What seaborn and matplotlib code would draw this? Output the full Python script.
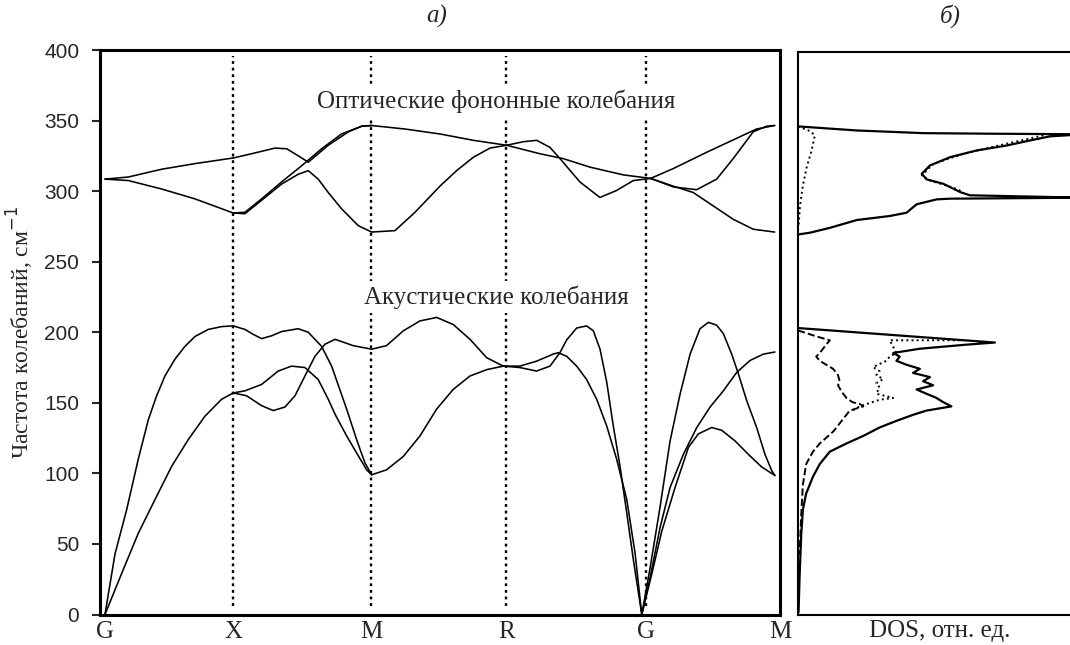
import matplotlib
matplotlib.use("Agg")
import matplotlib.pyplot as plt
import numpy as np
import pandas as pd
import seaborn as sns

# ---------------- data: phonon branches (path coordinate, frequency cm^-1) ----------------
kpath_labels = ["G", "X", "M", "R", "G", "M"]
kpath_pos = [0.0, 0.955, 1.985, 2.99, 4.03, 5.03]

ac_GX_top_u = [0, 0.075, 0.161, 0.248, 0.323, 0.385, 0.447, 0.522, 0.596, 0.671, 0.77, 0.869, 0.956]
ac_GX_top_v = [0, 43, 74, 110, 138, 155, 169, 181, 190, 197, 202, 204, 204.5]
ac_GX_low_u = [0, 0.124, 0.248, 0.373, 0.497, 0.621, 0.745, 0.869, 0.956]
ac_GX_low_v = [0, 29, 57.5, 81.5, 105, 124, 140.5, 152.5, 157]
ac_XM_a_u = [0.956, 1.043, 1.105, 1.167, 1.242, 1.316, 1.44, 1.515, 1.614, 1.689, 1.801, 1.875, 1.937, 1.987]
ac_XM_a_v = [204.5, 202, 198.5, 195.5, 197.5, 200.5, 202.5, 200, 190, 176, 145.5, 124, 107.5, 99]
ac_XM_b_u = [0.956, 1.055, 1.167, 1.254, 1.341, 1.416, 1.49, 1.565, 1.639, 1.714, 1.85, 1.987]
ac_XM_b_v = [157, 155, 148, 144.5, 147, 155, 169, 183, 191.5, 195, 190.5, 188]
ac_XM_c_u = [0.956, 1.043, 1.167, 1.291, 1.39, 1.49, 1.589, 1.664, 1.714, 1.801, 1.875, 1.95, 1.987]
ac_XM_c_v = [157, 158.5, 163, 172.5, 176, 175, 166.5, 152.5, 142, 126.5, 114.5, 102.5, 99]
ac_MR_low_u = [1.987, 2.098, 2.223, 2.347, 2.471, 2.595, 2.72, 2.844, 2.968]
ac_MR_low_v = [99, 102.5, 112, 126.5, 145.5, 159.5, 169, 173.5, 176]
ac_MR_up_u = [1.987, 2.098, 2.223, 2.347, 2.471, 2.595, 2.72, 2.844, 2.968]
ac_MR_up_v = [188, 190.5, 201, 208, 210.5, 205.5, 195, 182, 176]
ac_RG_a_u = [2.968, 3.092, 3.216, 3.34, 3.378, 3.44, 3.515, 3.589, 3.664, 3.739, 3.813, 3.888, 3.95, 4.0]
ac_RG_a_v = [176, 176, 179.5, 184.5, 185.5, 183, 176, 166.5, 152.5, 133.5, 110, 81.5, 43.5, 0]
ac_RG_b_u = [2.968, 3.092, 3.216, 3.316, 3.39, 3.44, 3.515, 3.589, 3.639, 3.689, 3.739, 3.788, 3.838, 3.888, 3.937, 4.0]
ac_RG_b_v = [176, 175, 172.5, 176, 185.5, 194.5, 203, 204.5, 201, 188, 164.5, 133.5, 105, 72, 39, 0]
ac_GM_a_u = [4.0, 4.062, 4.136, 4.211, 4.285, 4.36, 4.434, 4.496, 4.558, 4.608, 4.67, 4.72, 4.782, 4.856, 4.918, 4.968, 4.992]
ac_GM_a_v = [0, 33, 76, 123, 156, 184.5, 202.5, 207, 205, 199, 184.5, 170.5, 151.5, 132.5, 113.5, 102, 98.5]
ac_GM_b_u = [4.0, 4.062, 4.136, 4.211, 4.31, 4.41, 4.509, 4.608, 4.707, 4.807, 4.906, 4.992]
ac_GM_b_v = [0, 26, 61.5, 90, 113.5, 132.5, 147, 158.5, 171.5, 180, 184.5, 186]
ac_GM_c_u = [4.0, 4.074, 4.149, 4.248, 4.348, 4.422, 4.521, 4.596, 4.695, 4.794, 4.894, 4.992]
ac_GM_c_v = [0, 28.5, 59, 90, 118.5, 128, 132.5, 130.5, 123, 113.5, 104.5, 98.5]

op_GX_up_u = [0, 0.174, 0.422, 0.671, 0.956]
op_GX_up_v = [308.5, 310, 315.5, 319.5, 323.5]
op_GX_low_u = [0, 0.174, 0.422, 0.671, 0.956]
op_GX_low_v = [308.5, 307.5, 301.5, 294.5, 284.5]
op_XM_a_u = [0.956, 1.093, 1.267, 1.354, 1.441, 1.515, 1.664, 1.813, 1.913, 1.987]
op_XM_a_v = [323.5, 326.5, 330.5, 330, 325, 320.5, 332.5, 342, 346, 346.5]
op_XM_b_u = [0.956, 1.043, 1.167, 1.316, 1.466, 1.614, 1.763, 1.913, 1.987]
op_XM_b_v = [284.5, 285, 294.5, 306.5, 318, 330, 340.5, 346, 346.5]
op_XM_c_u = [0.956, 1.043, 1.167, 1.316, 1.441, 1.515, 1.589, 1.664, 1.763, 1.888, 1.987]
op_XM_c_v = [284.5, 284, 293.5, 305, 312, 314.5, 308.5, 299, 287.5, 275.5, 271]
op_MR_up_u = [1.987, 2.236, 2.496, 2.745, 2.993]
op_MR_up_v = [346.5, 344, 340.5, 336, 332.5]
op_MR_low_u = [1.987, 2.161, 2.31, 2.496, 2.62, 2.745, 2.869, 2.993]
op_MR_low_v = [271, 272, 285, 303.5, 314.5, 324, 330.5, 332.5]
op_RG_a_u = [2.993, 3.241, 3.416, 3.614, 3.863, 4.066]
op_RG_a_v = [332.5, 326.5, 323, 317, 311.5, 309]
op_RG_b_u = [2.993, 3.117, 3.217, 3.316, 3.391, 3.539, 3.688, 3.813, 3.937, 4.066]
op_RG_b_v = [332.5, 335, 336, 331, 323, 306.5, 295.5, 300.5, 307.5, 309]
op_GM_a_u = [4.066, 4.235, 4.483, 4.731, 4.855, 4.99]
op_GM_a_v = [309, 316, 327.5, 338.5, 344, 346.5]
op_GM_b_u = [4.066, 4.235, 4.409, 4.558, 4.681, 4.83, 4.93, 4.99]
op_GM_b_v = [309, 303, 301, 308.5, 323, 342, 346, 346.5]
op_GM_c_u = [4.066, 4.235, 4.384, 4.533, 4.682, 4.831, 4.99]
op_GM_c_v = [309, 303.5, 299, 289.5, 280, 273, 271]

# ---------------- data: density of states (relative units, frequency) ----------------
dos_opt_d = [0.0, 0.216, 0.461, 0.706, 1.05, 0.926, 0.853, 0.767, 0.657, 0.559, 0.485, 0.455, 0.473,
             0.534, 0.571, 0.596, 0.632, 1.05, 0.559, 0.51, 0.436, 0.399, 0.338, 0.216, 0.118, 0.044, 0.0025]
dos_opt_w = [347.1, 344.2, 342.3, 341.9, 341.5, 340, 337.1, 333.5, 330, 325.2, 319.3, 313.4, 309.4,
             306.3, 302.8, 300.4, 298.1, 296.4, 295.7, 295.2, 291.7, 285.7, 283.4, 280.5, 275, 271.5, 270.3]
dos_opt_dot_d = [0.0, 0.044, 0.062, 0.05, 0.032, 0.017, 0.007, 0.002]
dos_opt_dot_w = [347, 343.8, 340.7, 330, 318.2, 304, 289.7, 275.6]
dos_opt_dot2_d = [0.902, 0.767, 0.608, 0.498, 0.455, 0.485, 0.571, 0.608]
dos_opt_dot2_w = [340.7, 334.8, 327.6, 320.5, 312.3, 308.7, 303.5, 300.4]

dos_ac_d = [0.0, 0.724, 0.62, 0.448, 0.35, 0.374, 0.362, 0.399, 0.448, 0.423, 0.485, 0.46, 0.497, 0.436,
            0.472, 0.509, 0.534, 0.564, 0.472, 0.423, 0.362, 0.3, 0.24, 0.178, 0.117, 0.08, 0.055, 0.03,
            0.018, 0.012, 0.006, 0.002]
dos_ac_w = [203.7, 193.4, 191.9, 189, 186, 183.4, 180.4, 177.6, 174.7, 171.8, 168.8, 165.9, 163, 160,
            157, 154, 151, 148, 145, 142, 137.7, 133, 127, 121.6, 115.8, 107, 98, 86, 74.7, 57, 28, 1.5]
dos_ac_dash_d = [0.0, 0.067, 0.117, 0.104, 0.092, 0.08, 0.067, 0.08, 0.104, 0.129, 0.147, 0.153, 0.147,
                 0.16, 0.178, 0.2, 0.227, 0.24, 0.19, 0.166, 0.129, 0.08, 0.055, 0.03, 0.018, 0.012, 0.006]
dos_ac_dash_w = [202, 197.8, 195, 192, 189, 186, 183.4, 180.4, 177.6, 174.7, 170.3, 165.9, 163,
                 158.6, 154, 151, 149.7, 148, 145, 139, 130, 121.6, 115.8, 107, 92.3, 71.8, 42.5]
dos_ac_dot_d = [0.595, 0.337, 0.362, 0.337, 0.325, 0.276, 0.3, 0.288, 0.313, 0.288, 0.3, 0.288, 0.35, 0.3,
                0.252, 0.227, 0.2]
dos_ac_dot_w = [195, 195, 186, 183.4, 180.4, 176, 173, 170.3, 167.4, 164.5, 161.5, 157, 154, 152.7,
                149.7, 148, 145]

yticks = [0, 50, 100, 150, 200, 250, 300, 350, 400]

# ---------------- build tables ----------------
segments = {
    "ac_GX_top": (ac_GX_top_u, ac_GX_top_v), "ac_GX_low": (ac_GX_low_u, ac_GX_low_v),
    "ac_XM_a": (ac_XM_a_u, ac_XM_a_v), "ac_XM_b": (ac_XM_b_u, ac_XM_b_v), "ac_XM_c": (ac_XM_c_u, ac_XM_c_v),
    "ac_MR_low": (ac_MR_low_u, ac_MR_low_v), "ac_MR_up": (ac_MR_up_u, ac_MR_up_v),
    "ac_RG_a": (ac_RG_a_u, ac_RG_a_v), "ac_RG_b": (ac_RG_b_u, ac_RG_b_v),
    "ac_GM_a": (ac_GM_a_u, ac_GM_a_v), "ac_GM_b": (ac_GM_b_u, ac_GM_b_v), "ac_GM_c": (ac_GM_c_u, ac_GM_c_v),
    "op_GX_up": (op_GX_up_u, op_GX_up_v), "op_GX_low": (op_GX_low_u, op_GX_low_v),
    "op_XM_a": (op_XM_a_u, op_XM_a_v), "op_XM_b": (op_XM_b_u, op_XM_b_v), "op_XM_c": (op_XM_c_u, op_XM_c_v),
    "op_MR_up": (op_MR_up_u, op_MR_up_v), "op_MR_low": (op_MR_low_u, op_MR_low_v),
    "op_RG_a": (op_RG_a_u, op_RG_a_v), "op_RG_b": (op_RG_b_u, op_RG_b_v),
    "op_GM_a": (op_GM_a_u, op_GM_a_v), "op_GM_b": (op_GM_b_u, op_GM_b_v), "op_GM_c": (op_GM_c_u, op_GM_c_v),
}
bands = pd.concat(
    [pd.DataFrame({"k": u, "freq": v, "seg": name}) for name, (u, v) in segments.items()],
    ignore_index=True)

dos_curves = {
    "opt_solid": (dos_opt_d, dos_opt_w, "-"),
    "opt_dot": (dos_opt_dot_d, dos_opt_dot_w, ":"),
    "opt_dot2": (dos_opt_dot2_d, dos_opt_dot2_w, ":"),
    "ac_solid": (dos_ac_d, dos_ac_w, "-"),
    "ac_dash": (dos_ac_dash_d, dos_ac_dash_w, "--"),
    "ac_dot": (dos_ac_dot_d, dos_ac_dot_w, ":"),
}

# ---------------- style ----------------
sns.set_style("white")
plt.rcParams["font.family"] = ["Liberation Serif", "DejaVu Serif"]
plt.rcParams["axes.edgecolor"] = "black"

W, H = 1070, 645
fig = plt.figure(figsize=(W / 100, H / 100), dpi=100)

def fx(px):
    return px / W

def fy(py):
    return 1 - py / H

ax = fig.add_axes([fx(100), fy(614.5), fx(780) - fx(100), fy(50) - fy(614.5)])
ax2 = fig.add_axes([fx(798), fy(614.5), 1.0 - fx(798) + 0.01, fy(52) - fy(614.5)])

# band structure
sns.lineplot(data=bands, x="k", y="freq", units="seg", estimator=None, sort=False,
             color="black", linewidth=1.15, ax=ax, legend=False)
for xp in kpath_pos[1:5]:
    ax.axvline(xp, ymin=0.015, ymax=0.99, color="black", linestyle=(0, (1.2, 1.6)),
               linewidth=1.7, zorder=1)

ax.set_xlim(-0.037, 5.03)
ax.set_ylim(0, 400)
ax.set_yticks(yticks)
ax.set_yticklabels([str(t) for t in yticks], fontfamily="Liberation Sans", fontsize=15)
ax.set_xticks(kpath_pos)
ax.set_xticklabels(kpath_labels, fontsize=18)
ax.tick_params(axis="x", length=0, pad=5)
ax.tick_params(axis="y", direction="out", length=6, width=1.5, pad=9, left=True)
ax.set_xlabel("")
ax.set_ylabel("Частота колебаний, см$^{-1}$", fontsize=17, labelpad=6)
for s in ax.spines.values():
    s.set_linewidth(2.2)
    s.set_color("black")

ax.text(2.914, 364, "Оптические фононные колебания", ha="center", va="center", fontsize=18,
        bbox=dict(facecolor="white", edgecolor="none", pad=3), zorder=3)
ax.text(2.92, 225, "Акустические колебания", ha="center", va="center", fontsize=18,
        bbox=dict(facecolor="white", edgecolor="none", pad=3), zorder=3)

# density of states
for name, (d, w, ls) in dos_curves.items():
    sns.lineplot(x=d, y=w, sort=False, estimator=None, color="black",
                 linestyle=ls, linewidth=1.6 if ls == "-" else 1.4, ax=ax2, legend=False)
ax2.set_xlim(0, 1.0 + 0.01 * W / 272)
ax2.set_ylim(0, 400)
ax2.set_xticks([])
ax2.set_yticks([])
ax2.set_ylabel("")
ax2.set_xlabel("DOS, отн. ед.", fontsize=18, labelpad=4)
for s in ax2.spines.values():
    s.set_linewidth(1.5)
    s.set_color("black")
ax2.spines["right"].set_visible(False)

fig.text(fx(437), fy(16), "а)", ha="center", va="center", fontsize=18, style="italic")
fig.text(fx(950), fy(16), "б)", ha="center", va="center", fontsize=18, style="italic")

fig.savefig("out.png", dpi=100)
